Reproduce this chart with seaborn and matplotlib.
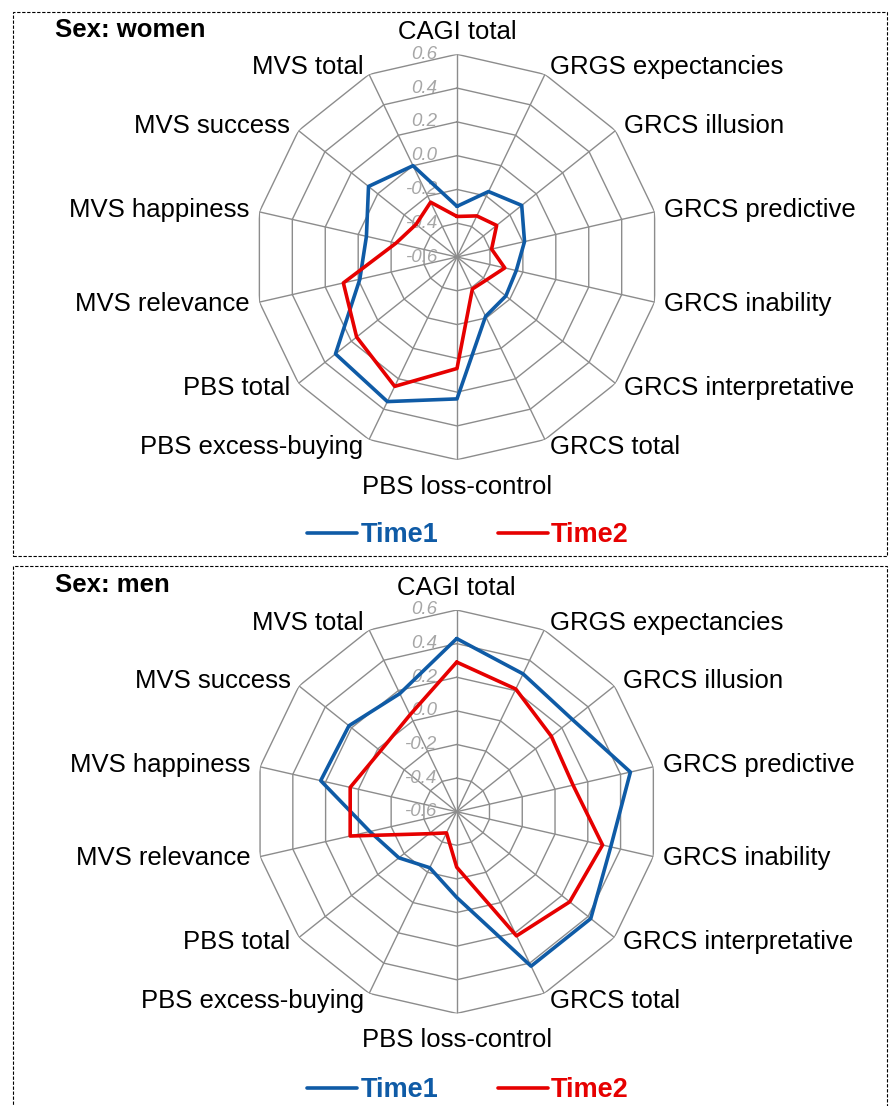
import numpy as np
import pandas as pd
import matplotlib.pyplot as plt
import seaborn as sns
from matplotlib.patches import Rectangle
from matplotlib.lines import Line2D

categories = ['CAGI total', 'GRGS expectancies', 'GRCS illusion', 'GRCS predictive',
              'GRCS inability', 'GRCS interpretative', 'GRCS total', 'PBS loss-control',
              'PBS excess-buying', 'PBS total', 'MVS relevance', 'MVS happiness',
              'MVS success', 'MVS total']

women_time1 = [-0.30, -0.17, -0.11, -0.19, -0.24, -0.23, -0.21, 0.24, 0.35, 0.32, -0.01, -0.05, 0.07, 0.00]
women_time2 = [-0.36, -0.33, -0.30, -0.39, -0.31, -0.38, -0.39, 0.06, 0.25, 0.16, 0.09, -0.23, -0.29, -0.24]
men_time1 = [0.43, 0.31, 0.28, 0.46, 0.34, 0.42, 0.42, -0.09, -0.23, -0.16, -0.07, 0.23, 0.22, 0.18]
men_time2 = [0.29, 0.21, 0.12, 0.11, 0.29, 0.26, 0.22, -0.27, -0.46, -0.39, 0.05, 0.05, -0.02, 0.04]

tick_levels = [-0.6, -0.4, -0.2, 0.0, 0.2, 0.4, 0.6]
tick_labels = ['-0.6', '-0.4', '-0.2', '0.0', '0.2', '0.4', '0.6']

sns.set_theme(style='white')
plt.rcParams['font.family'] = ['Liberation Sans', 'DejaVu Sans']
plt.rcParams['text.color'] = 'black'

BLUE = '#0F5BA6'
RED = '#E60000'
GRID = '#8c8c8c'
palette = {'Time1': BLUE, 'Time2': RED}

n = len(categories)
angles = np.arange(n) * 2 * np.pi / n


def make_frame(t1, t2):
    rows = []
    for name, vals in [('Time1', t1), ('Time2', t2)]:
        for a, v in zip(list(angles) + [2 * np.pi], list(vals) + [vals[0]]):
            rows.append({'theta': a, 'value': v, 'time': name})
    return pd.DataFrame(rows)


def radar(ax, t1, t2):
    ax.set_theta_zero_location('N')
    ax.set_theta_direction(-1)
    ax.set_ylim(-0.6, 0.6)
    ax.grid(False)
    ax.set_xticks([])
    ax.set_yticks([])
    ax.spines['polar'].set_visible(False)
    ax.patch.set_alpha(0)

    # polygon grid and spokes
    closed = np.append(angles, angles[0])
    for lev in tick_levels[1:]:
        ax.plot(closed, [lev] * len(closed), color=GRID, lw=1.0, zorder=1)
    for a in angles:
        ax.plot([a, a], [-0.6, 0.6], color=GRID, lw=1.0, zorder=1)

    df = make_frame(t1, t2)
    sns.lineplot(data=df, x='theta', y='value', hue='time', palette=palette,
                 sort=False, estimator=None, lw=2.6, legend=False, ax=ax, zorder=3)
    ax.set_xlabel('')
    ax.set_ylabel('')

    # radial tick labels
    for lev, lab in zip(tick_levels, tick_labels):
        ax.annotate(lab, xy=(0, lev), xytext=(-20, 0), textcoords='offset pixels',
                    ha='right', va='center', fontsize=13.5, color='#a6a6a6',
                    style='italic', annotation_clip=False, zorder=2)

    # category labels
    for a, cat in zip(angles, categories):
        s, c = np.sin(a), np.cos(a)
        if abs(s) < 1e-6:
            ha = 'center'
            off = (0, 22) if c > 0 else (0, -27)
        else:
            ha = 'left' if s > 0 else 'right'
            off = (s * 8 + np.sign(s) * 2, c * 8)
        ax.annotate(cat, xy=(a, 0.6), xytext=off, textcoords='offset pixels',
                    ha=ha, va='center', fontsize=18.5, color='black',
                    annotation_clip=False)


fig = plt.figure(figsize=(8.89, 11.06), dpi=100)

# dashed panel frames
fig.patches.append(Rectangle((13 / 889, 1 - 555.5 / 1106), 874 / 889, 543.5 / 1106,
                             transform=fig.transFigure, fill=False, ec='black',
                             lw=0.8, ls=(0, (3, 1.5))))
fig.patches.append(Rectangle((13 / 889, -0.01), 874 / 889, (1106 - 566.5) / 1106 + 0.01,
                             transform=fig.transFigure, fill=False, ec='black',
                             lw=0.8, ls=(0, (3, 1.5))))

ax1 = fig.add_axes([254.3 / 889, 646.3 / 1106, 405.4 / 889, 405.4 / 1106], projection='polar')
radar(ax1, women_time1, women_time2)
ax2 = fig.add_axes([255.0 / 889, 92.6 / 1106, 403.4 / 889, 403.4 / 1106], projection='polar')
radar(ax2, men_time1, men_time2)

fig.text(55 / 889, 1 - 30 / 1106, 'Sex: women', fontsize=18.5, fontweight='bold',
         va='center', color='black')
fig.text(55 / 889, 1 - 585 / 1106, 'Sex: men', fontsize=18.5, fontweight='bold',
         va='center', color='black')

handles = [Line2D([], [], color=BLUE, lw=2.6), Line2D([], [], color=RED, lw=2.6)]
for ycen in [1 - 535 / 1106, 1 - 1090 / 1106]:
    fig.legend(handles, ['Time1', 'Time2'], loc='center', bbox_to_anchor=(468 / 889, ycen),
               ncol=2, frameon=False, handlelength=1.85, handletextpad=0.12,
               columnspacing=2.2, labelcolor='linecolor', borderpad=0,
               prop={'weight': 'bold', 'size': 19.5})

fig.savefig('out.png', dpi=100)
